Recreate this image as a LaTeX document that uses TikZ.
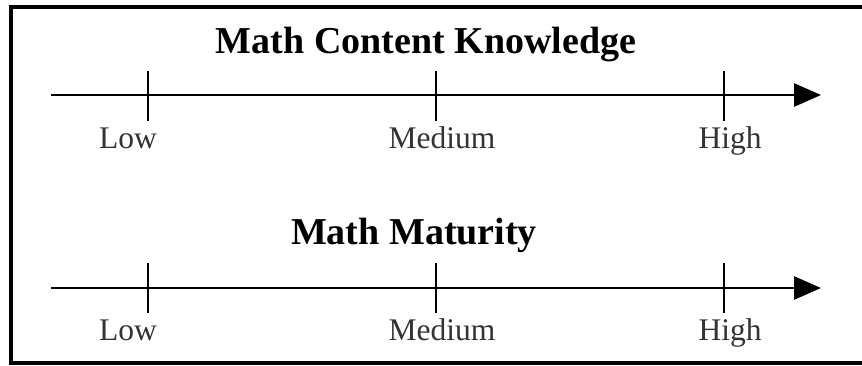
\documentclass[tikz,border=0pt]{standalone}
\usepackage{fontspec}
\setmainfont{Liberation Serif}
\usetikzlibrary{arrows.meta}
\begin{document}
\begin{tikzpicture}[x=1pt,y=-1pt,
  frame/.style={line width=3.2pt},
  axis/.style={line width=2.9pt,-{Triangle[length=27pt,width=23pt]}},
  tickmark/.style={line width=2.9pt},
  title/.style={font=\fontsize{38}{42}\selectfont\bfseries,anchor=base,inner sep=0pt},
  lvl/.style={font=\fontsize{31.5}{34}\selectfont,anchor=base,inner sep=0pt,text=black!80}]
\useasboundingbox (0,0) rectangle (862,365);
% frame (open on the right)
\coordinate (fTR) at (864,7);
\coordinate (fTL) at (11,7);
\coordinate (fBL) at (11,363);
\coordinate (fBR) at (864,363);
\draw[frame] (fTR) -- (fTL) -- (fBL) -- (fBR);
% first scale
\node[title] (t1) at (426,53) {Math Content Knowledge};
\coordinate (a1s) at (51,95);
\coordinate (a1e) at (821,95);
\draw[axis] (a1s) -- (a1e);
\coordinate (k1a) at (148,71); \coordinate (k1b) at (148,121);
\coordinate (k2a) at (436,71); \coordinate (k2b) at (436,121);
\coordinate (k3a) at (724,71); \coordinate (k3b) at (724,121);
\draw[tickmark] (k1a) -- (k1b);
\draw[tickmark] (k2a) -- (k2b);
\draw[tickmark] (k3a) -- (k3b);
\node[lvl] (l1) at (128,148) {Low};
\node[lvl] (m1) at (442,148) {Medium};
\node[lvl] (h1) at (730,148) {High};
% second scale
\node[title] (t2) at (414,244) {Math Maturity};
\coordinate (a2s) at (51,288);
\coordinate (a2e) at (821,288);
\draw[axis] (a2s) -- (a2e);
\coordinate (q1a) at (148,263); \coordinate (q1b) at (148,313);
\coordinate (q2a) at (436,263); \coordinate (q2b) at (436,313);
\coordinate (q3a) at (724,263); \coordinate (q3b) at (724,313);
\draw[tickmark] (q1a) -- (q1b);
\draw[tickmark] (q2a) -- (q2b);
\draw[tickmark] (q3a) -- (q3b);
\node[lvl] (l2) at (128,340) {Low};
\node[lvl] (m2) at (442,340) {Medium};
\node[lvl] (h2) at (730,340) {High};
\end{tikzpicture}
\end{document}
